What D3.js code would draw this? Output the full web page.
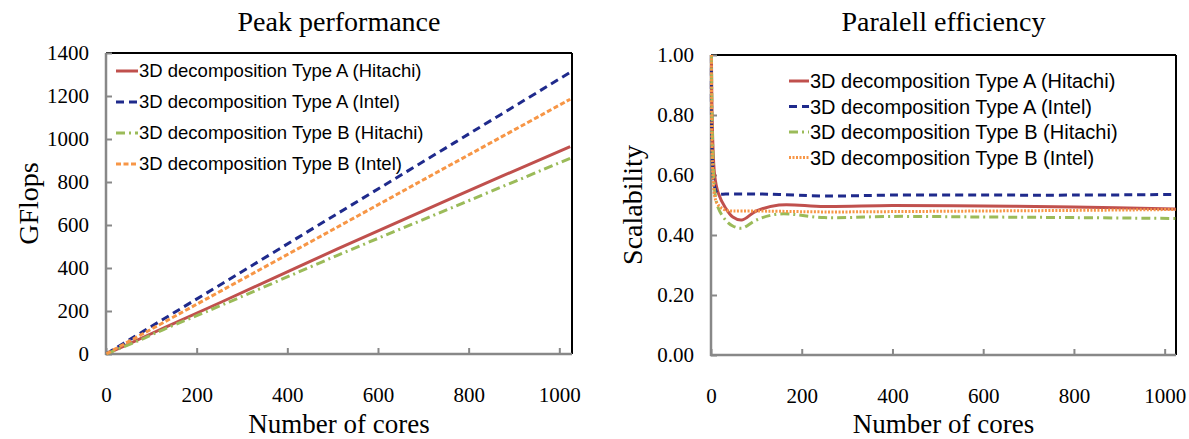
<!DOCTYPE html>
<html><head><meta charset="utf-8">
<script src="https://cdn.jsdelivr.net/npm/d3@7"></script>
<style>body{margin:0;background:#fff}svg{display:block}</style>
</head><body>
<svg id="c" width="1189" height="439"></svg>
<script>
const seriesNames = ["3D decomposition Type A (Hitachi)","3D decomposition Type A (Intel)","3D decomposition Type B (Hitachi)","3D decomposition Type B (Intel)"];
const coresPerf = [1, 64, 128, 256, 512, 768, 1024];
const perfAHitachi = [1, 60, 122, 243, 490, 730, 965];
const perfAIntel = [1.3, 82, 164, 327, 655, 982, 1310];
const perfBHitachi = [1, 55, 115, 228, 460, 685, 910];
const perfBIntel = [1.2, 74, 148, 296, 592, 889, 1185];

const coresEff = [1, 8, 16, 32, 48, 68, 100, 150, 250, 400, 600, 800, 1024];
const effAHitachi = [1.0, 0.60, 0.54, 0.49, 0.46, 0.45, 0.48, 0.50, 0.495, 0.498, 0.497, 0.493, 0.487];
const effAIntel = [1.0, 0.56, 0.537, 0.537, 0.537, 0.537, 0.537, 0.535, 0.53, 0.533, 0.533, 0.533, 0.535];
const effBHitachi = [1.0, 0.55, 0.49, 0.45, 0.43, 0.423, 0.45, 0.47, 0.458, 0.462, 0.46, 0.458, 0.455];
const effBIntel = [1.0, 0.53, 0.50, 0.483, 0.48, 0.48, 0.48, 0.479, 0.477, 0.478, 0.48, 0.482, 0.485];

const perfTicks = [0,200,400,600,800,1000,1200,1400];
const effTicks = [0,0.2,0.4,0.6,0.8,1.0];
const xTicks = [0,200,400,600,800,1000];

const colors = ["#c0504d","#1f2a8c","#9bbb59","#f79646"];
const leftDash = [null, "8,5", "9,4,2,4", "5,2.5"];
const rightDash = [null, "8,5", "9,4,2,4", "2,1.5"];

const svg = d3.select("#c");
const serif = "'Liberation Serif','Times New Roman',serif";
const sans = "'Liberation Sans',Arial,sans-serif";

function panel(o){
  const g = svg.append("g");
  const x = d3.scaleLinear().domain([0, o.xmax]).range([o.x0, o.x1]);
  const y = d3.scaleLinear().domain([0, o.ymax]).range([o.y1, o.y0]);
  g.append("line").attr("x1",o.x0).attr("x2",o.x1).attr("y1",o.y0).attr("y2",o.y0).attr("stroke","#000").attr("stroke-width",2);
  g.append("line").attr("x1",o.x1).attr("x2",o.x1).attr("y1",o.y0).attr("y2",o.y1).attr("stroke","#000").attr("stroke-width",2);
  const ya = d3.axisLeft(y).tickValues(o.yTicks).tickSize(-6).tickPadding(17).tickFormat(o.yfmt);
  const yg = g.append("g").attr("transform",`translate(${o.x0},0)`).call(ya);
  const xa = d3.axisBottom(x).tickValues(xTicks).tickSize(-6).tickPadding(33).tickFormat(d3.format("d"));
  const xg = g.append("g").attr("transform",`translate(0,${o.y1})`).call(xa);
  [yg,xg].forEach(a=>{
    a.select(".domain").attr("stroke","#888").attr("stroke-width",2.5);
    a.selectAll(".tick line").attr("stroke","#888").attr("stroke-width",2);
    a.selectAll(".tick text").attr("fill","#000").style("font-family",serif).style("font-size","21px");
  });
  yg.select(".domain").attr("d",`M0,${o.y1+1}V${o.y0}`);
  xg.select(".domain").attr("d",`M${o.x0-1},0H${o.x1}`);
  const line = d3.line().x(d=>x(d[0])).y(d=>y(d[1])).curve(d3.curveCatmullRom.alpha(0.5));
  o.series.forEach((s,i)=>{
    g.append("path").datum(o.xs.map((c,k)=>[c,s[k]])).attr("d",line)
      .attr("fill","none").attr("stroke",colors[i]).attr("stroke-width",3)
      .attr("stroke-dasharray",o.dash[i]);
  });
  seriesNames.forEach((n,i)=>{
    const ly = o.ly + i*o.lstep;
    g.append("line").attr("x1",o.lx).attr("x2",o.lx+o.llen).attr("y1",ly).attr("y2",ly)
      .attr("stroke",colors[i]).attr("stroke-width",3).attr("stroke-dasharray",o.dash[i]);
    g.append("text").attr("x",o.lx+o.llen+1).attr("y",ly).attr("dy","0.35em")
      .style("font-family",sans).style("font-size",o.lfs+"px").text(n);
  });
  const cx = (o.x0+o.x1)/2;
  g.append("text").attr("x",cx).attr("y",31).attr("text-anchor","middle").style("font-family",serif).style("font-size","28px").text(o.title);
  g.append("text").attr("x",cx).attr("y",433).attr("text-anchor","middle").style("font-family",serif).style("font-size","27px").text("Number of cores");
  g.append("text").attr("transform",`translate(${o.ytx},${(o.y0+o.y1)/2}) rotate(-90)`).attr("text-anchor","middle").style("font-family",serif).style("font-size","28px").text(o.ytitle);
}

panel({x0:106,x1:572,y0:53,y1:354,xmax:1028,ymax:1400,yTicks:perfTicks,yfmt:d3.format("d"),
  xs:coresPerf,series:[perfAHitachi,perfAIntel,perfBHitachi,perfBIntel],dash:leftDash,
  lx:116,ly:71,lstep:31,llen:22,lfs:18.5,title:"Peak performance",ytitle:"GFlops",ytx:38});
panel({x0:711,x1:1176,y0:55,y1:355,xmax:1025,ymax:1.0,yTicks:effTicks,yfmt:d3.format(".2f"),
  xs:coresEff,series:[effAHitachi,effAIntel,effBHitachi,effBIntel],dash:rightDash,
  lx:789,ly:81,lstep:25.5,llen:20,lfs:20,title:"Paralell efficiency",ytitle:"Scalability",ytx:642});
</script>
</body></html>
